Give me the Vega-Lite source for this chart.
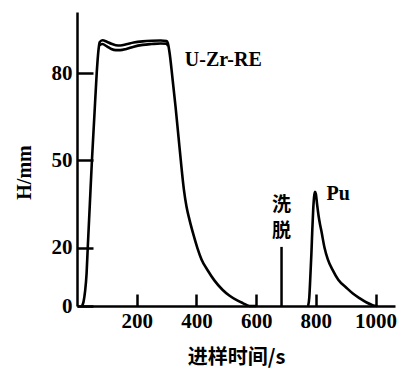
{
  "$schema": "https://vega.github.io/schema/vega-lite/v6.json",
  "width": 318,
  "height": 294,
  "autosize": {"type": "none"},
  "padding": {"left": 77, "top": 12, "right": 2, "bottom": 64},
  "background": "white",
  "config": {"view": {"stroke": null}},
  "encoding": {
    "x": {
      "field": "x", "type": "quantitative",
      "scale": {"domain": [0, 1065], "nice": false, "zero": false},
      "axis": {
        "values": [200, 400, 600, 800, 1000],
        "format": "d",
        "grid": false,
        "tickSize": -12, "tickWidth": 2.5, "tickColor": "black",
        "domainWidth": 2.5, "domainColor": "black",
        "labelFont": "Liberation Serif", "labelFontWeight": "bold", "labelFontSize": 21,
        "labelColor": "black", "labelPadding": 16, "labelFlush": false, "labelOverlap": false, "labelBound": false,
        "title": "进样时间/s",
        "titleFont": "Noto Sans CJK SC", "titleFontWeight": "bold", "titleFontSize": 20,
        "titleColor": "black", "titleY": 51, "titleBaseline": "middle"
      }
    },
    "y": {
      "field": "y", "type": "quantitative",
      "scale": {"domain": [0, 101], "nice": false, "zero": true},
      "axis": {
        "values": [0, 20, 50, 80],
        "grid": false,
        "tickSize": -16, "tickWidth": 2.5, "tickColor": "black",
        "domainWidth": 2.5, "domainColor": "black",
        "labelFont": "Liberation Serif", "labelFontWeight": "bold", "labelFontSize": 21,
        "labelColor": "black", "labelPadding": 21, "labelOverlap": false, "labelFlush": false,
        "title": "H/mm",
        "titleFont": "Liberation Serif", "titleFontWeight": "bold", "titleFontSize": 20,
        "titleColor": "black", "titleX": -53, "titleY": 160, "titleAngle": -90,
        "titleAlign": "center", "titleBaseline": "middle"
      }
    }
  },
  "layer": [
    {
      "data": {"values": [
        {"s": "U1", "x": 17, "y": 0}, {"s": "U1", "x": 22, "y": 1.5}, {"s": "U1", "x": 27, "y": 5}, {"s": "U1", "x": 32, "y": 11},
        {"s": "U1", "x": 36, "y": 20}, {"s": "U1", "x": 43, "y": 35}, {"s": "U1", "x": 50, "y": 50}, {"s": "U1", "x": 58, "y": 65},
        {"s": "U1", "x": 66, "y": 80}, {"s": "U1", "x": 72, "y": 88}, {"s": "U1", "x": 76, "y": 90.6}, {"s": "U1", "x": 85, "y": 91.3},
        {"s": "U1", "x": 100, "y": 90.8}, {"s": "U1", "x": 115, "y": 90.1}, {"s": "U1", "x": 130, "y": 89.6}, {"s": "U1", "x": 145, "y": 89.5},
        {"s": "U1", "x": 165, "y": 89.9}, {"s": "U1", "x": 190, "y": 90.5}, {"s": "U1", "x": 220, "y": 90.9}, {"s": "U1", "x": 250, "y": 91.1},
        {"s": "U1", "x": 280, "y": 91.2}, {"s": "U1", "x": 300, "y": 91}, {"s": "U1", "x": 304, "y": 90.4}, {"s": "U1", "x": 310, "y": 87},
        {"s": "U1", "x": 320, "y": 78}, {"s": "U1", "x": 330, "y": 68.5}, {"s": "U1", "x": 340, "y": 58}, {"s": "U1", "x": 350, "y": 47.5},
        {"s": "U1", "x": 358, "y": 40}, {"s": "U1", "x": 367, "y": 34}, {"s": "U1", "x": 377, "y": 29.5}, {"s": "U1", "x": 390, "y": 24.5},
        {"s": "U1", "x": 403, "y": 20}, {"s": "U1", "x": 417, "y": 16}, {"s": "U1", "x": 438, "y": 12.2}, {"s": "U1", "x": 460, "y": 8.8},
        {"s": "U1", "x": 488, "y": 5.5}, {"s": "U1", "x": 510, "y": 3.6}, {"s": "U1", "x": 535, "y": 2}, {"s": "U1", "x": 555, "y": 1},
        {"s": "U1", "x": 578, "y": 0}, {"s": "U1", "x": 600, "y": 0},
        {"s": "U2", "x": 74, "y": 89.5}, {"s": "U2", "x": 85, "y": 90}, {"s": "U2", "x": 100, "y": 89.2}, {"s": "U2", "x": 115, "y": 88.3},
        {"s": "U2", "x": 130, "y": 87.9}, {"s": "U2", "x": 145, "y": 87.9}, {"s": "U2", "x": 165, "y": 88.3}, {"s": "U2", "x": 190, "y": 89.1},
        {"s": "U2", "x": 220, "y": 89.7}, {"s": "U2", "x": 250, "y": 90}, {"s": "U2", "x": 280, "y": 90.2}, {"s": "U2", "x": 300, "y": 90.1},
        {"s": "U2", "x": 305, "y": 89.3},
        {"s": "Pu", "x": 774, "y": 0}, {"s": "Pu", "x": 778, "y": 3}, {"s": "Pu", "x": 781, "y": 9}, {"s": "Pu", "x": 785, "y": 18},
        {"s": "Pu", "x": 788, "y": 26}, {"s": "Pu", "x": 791, "y": 33}, {"s": "Pu", "x": 794, "y": 37.5}, {"s": "Pu", "x": 797, "y": 39.2},
        {"s": "Pu", "x": 800, "y": 38.5}, {"s": "Pu", "x": 804, "y": 35}, {"s": "Pu", "x": 809, "y": 31}, {"s": "Pu", "x": 814, "y": 28},
        {"s": "Pu", "x": 818, "y": 26}, {"s": "Pu", "x": 829, "y": 20}, {"s": "Pu", "x": 840, "y": 16}, {"s": "Pu", "x": 856, "y": 12.4},
        {"s": "Pu", "x": 875, "y": 9}, {"s": "Pu", "x": 903, "y": 6.2}, {"s": "Pu", "x": 925, "y": 4.2}, {"s": "Pu", "x": 946, "y": 2.7},
        {"s": "Pu", "x": 970, "y": 1.2}, {"s": "Pu", "x": 990, "y": 0.3}, {"s": "Pu", "x": 1005, "y": 0}
      ]},
      "mark": {"type": "line", "color": "black", "strokeWidth": 2.6, "strokeJoin": "round", "interpolate": "monotone"},
      "encoding": {"detail": {"field": "s"}}
    },
    {
      "data": {"values": [{"x": 685, "y": 0, "y2": 20.3}]},
      "mark": {"type": "rule", "color": "black", "strokeWidth": 2.5},
      "encoding": {"y2": {"field": "y2"}}
    },
    {
      "data": {"values": [
        {"x": 361, "y": 82.4, "t": "U-Zr-RE"},
        {"x": 836, "y": 36.5, "t": "Pu"}
      ]},
      "mark": {"type": "text", "font": "Liberation Serif", "fontWeight": "bold", "fontSize": 20, "align": "left", "baseline": "alphabetic", "color": "black"},
      "encoding": {"text": {"field": "t"}}
    },
    {
      "data": {"values": [
        {"x": 685, "y": 34.6, "t": "洗"},
        {"x": 685, "y": 25.6, "t": "脱"}
      ]},
      "mark": {"type": "text", "font": "Noto Sans CJK SC", "fontWeight": "bold", "fontSize": 19, "align": "center", "baseline": "middle", "color": "black"},
      "encoding": {"text": {"field": "t"}}
    }
  ]
}
